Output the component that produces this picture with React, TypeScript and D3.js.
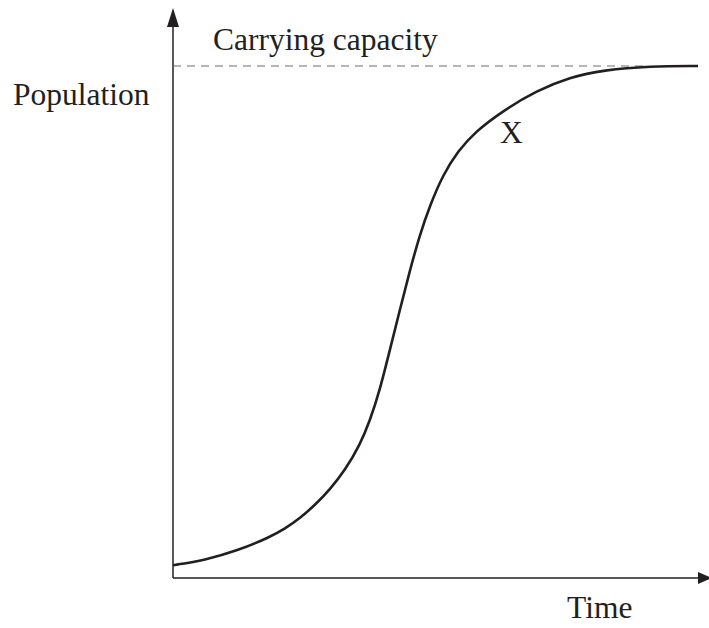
import { useRef, useEffect } from 'react'
import * as d3 from 'd3'

// logistic growth curve (time 0-100, population 0-100 = capacity)
const times = [0, 6.1, 12.2, 18.5, 21.3, 24.2, 27.0, 29.9, 32.8, 35.6, 37.5, 39.4, 41.3, 43.2, 45.1, 47.0, 49.0, 51.4, 54.3, 57.5, 62.9, 69.3, 75.6, 81.9, 90.9, 100]
const population = [2.5, 3.5, 5.3, 8.0, 9.6, 11.7, 14.2, 17.3, 21.1, 26.0, 30.7, 36.7, 44.5, 52.3, 60.0, 67.0, 72.9, 78.7, 83.4, 87.1, 91.3, 95.2, 97.8, 99.2, 100, 100]
const capacity = 100
const capacityEnd = 90
const labels = { y: 'Population', x: 'Time', capacity: 'Carrying capacity', point: 'X' }

const App = () => {
  const ref = useRef<SVGSVGElement>(null)

  useEffect(() => {
    const width = 709, height = 628
    const svg = d3.select(ref.current)
    svg.attr('width', width).attr('height', height)
    svg.selectAll('*').remove()

    const x = d3.scaleLinear().domain([0, 100]).range([173, 698])
    const y = d3.scaleLinear().domain([0, 100]).range([578, 66])
    const ink = '#231f20'
    const font = '"Liberation Serif", "Times New Roman", serif'

    const data = times.map((t, i) => ({ t, p: population[i] }))

    // axes with arrow heads
    const y0 = y(0), x0 = x(0)
    svg.append('line')
      .attr('x1', x0).attr('x2', x0).attr('y1', y0).attr('y2', 24)
      .attr('stroke', ink).attr('stroke-width', 1.5)
    svg.append('path')
      .attr('d', `M${x0 - 6},27 L${x0},8 L${x0 + 6},27 Z`)
      .attr('fill', ink)
    svg.append('line')
      .attr('x1', x0).attr('x2', 700).attr('y1', y0).attr('y2', y0)
      .attr('stroke', ink).attr('stroke-width', 1.5)
    svg.append('path')
      .attr('d', `M698,${y0 - 6} L712,${y0} L698,${y0 + 6} Z`)
      .attr('fill', ink)

    // carrying capacity
    svg.append('line')
      .attr('x1', x0).attr('x2', x(capacityEnd))
      .attr('y1', y(capacity)).attr('y2', y(capacity))
      .attr('stroke', '#6d6e71').attr('stroke-width', 1)
      .attr('stroke-dasharray', '8,6')

    // curve
    svg.append('path')
      .datum(data)
      .attr('fill', 'none')
      .attr('stroke', ink)
      .attr('stroke-width', 2.6)
      .attr('d', d3.line<{ t: number, p: number }>()
        .x(d => x(d.t))
        .y(d => y(d.p))
        .curve(d3.curveBasis))

    const text = (tx: number, ty: number, s: string) =>
      svg.append('text')
        .attr('x', tx).attr('y', ty)
        .attr('font-family', font)
        .attr('font-size', 31.5)
        .attr('fill', ink)
        .text(s)

    text(13, 105, labels.y)
    text(213, 50, labels.capacity)
    text(500, 143, labels.point)
    text(567, 618, labels.x)
  }, [])

  return (
    <div style={{ position: 'absolute', left: 0, top: 0 }}>
      <svg ref={ref} style={{ display: 'block' }}></svg>
    </div>
  )
}

export default App
